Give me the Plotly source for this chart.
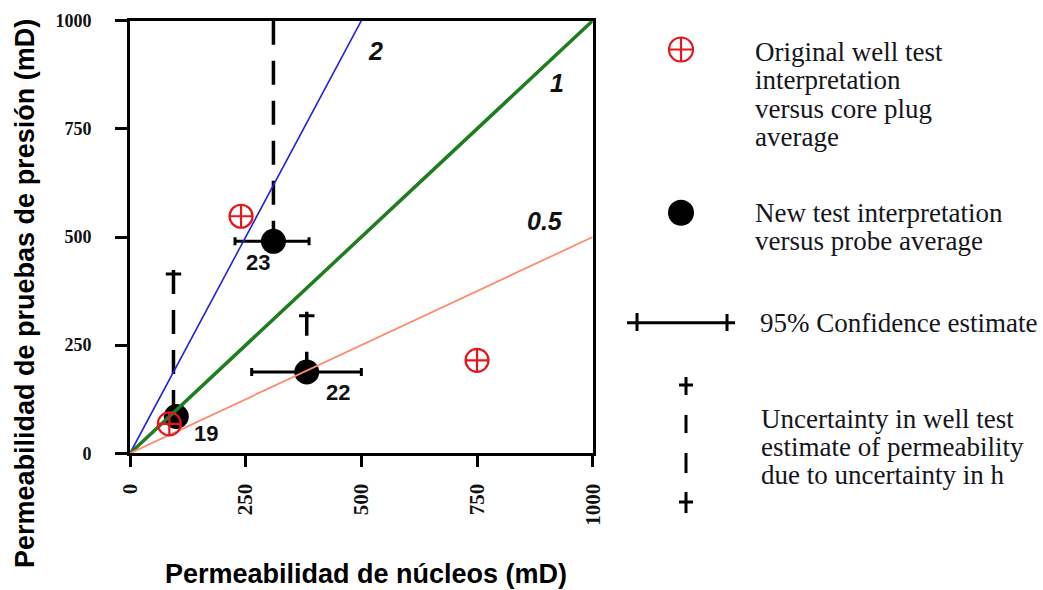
import plotly.graph_objects as go

# ---------------- data ----------------
wells = ["23", "22", "19"]
probe_avg = [310, 382, 100]          # x of new interpretation (black dots)
new_test_k = [490, 188, 85]          # y of new interpretation
conf_minus = [83, 119, None]         # 95% confidence (horizontal)
conf_plus = [77, 118, None]
h_x = [310, 382, 94]                 # uncertainty in h (vertical dashed)
h_top = [1000, 327, 424]
core_plug_avg = [240, 750, 85]       # x of original interpretation (red)
orig_test_k = [548, 215, 68]         # y of original interpretation
ratios = [2, 1, 0.5]
ratio_labels = ["2", "1", "0.5"]
ratio_label_x = [531, 922, 897]
ratio_label_y = [930, 856, 537]
ratio_colors = ["#2323d8", "#1e7d1e", "#ff8b6e"]
ratio_widths = [1.6, 3.5, 1.8]
xticks = [0, 250, 500, 750, 1000]
yticks = [0, 250, 500, 750, 1000]
AX_MAX = 1000

W, H = 1043, 590
M = 10
PW, PH = W - 2 * M, H - 2 * M
SANS = "Liberation Sans, Arial, sans-serif"
SERIF = "Liberation Serif, Times New Roman, serif"


def px_x(p):
    return (p - M) / PW


def px_y(p):
    return 1 - (p - M) / PH


# plot area in pixels
PX_L, PX_R, PX_T, PX_B = 130, 592.7, 20.7, 453.3
xdom = [px_x(PX_L), px_x(PX_R)]
ydom = [px_y(PX_B), px_y(PX_T)]
ypx_per_unit = (PX_B - PX_T) / AX_MAX

fig = go.Figure()

# uncertainty in h (vertical dashed)
for xv, y0, y1 in zip(h_x, new_test_k, h_top):
    fig.add_trace(go.Scatter(x=[xv, xv], y=[y1, y0], mode="lines",
                             line=dict(color="black", width=3.5, dash="24px,16px"),
                             hoverinfo="skip"))
cb_x = [xv for xv, t in zip(h_x, h_top) if t < AX_MAX]
cb_y = [t - 4 / ypx_per_unit for t in h_top if t < AX_MAX]
fig.add_trace(go.Scatter(x=cb_x, y=cb_y, mode="markers",
                         marker=dict(symbol="line-ew", size=11,
                                     line=dict(color="black", width=3)),
                         hoverinfo="skip"))

# new interpretation with confidence bars
fig.add_trace(go.Scatter(
    x=probe_avg, y=new_test_k, mode="markers",
    marker=dict(color="black", size=25),
    error_x=dict(type="data", array=conf_plus, arrayminus=conf_minus,
                 symmetric=False, color="black", thickness=3, width=4),
))

# ratio lines
for r, c, w in zip(ratios, ratio_colors, ratio_widths):
    xe = min(AX_MAX, AX_MAX / r)
    fig.add_trace(go.Scatter(x=[0, xe], y=[0, r * xe], mode="lines",
                             line=dict(color=c, width=w), hoverinfo="skip"))

# original interpretation
fig.add_trace(go.Scatter(
    x=core_plug_avg, y=orig_test_k, mode="markers",
    marker=dict(symbol="circle-cross-open", size=23, color="#e5161c",
                line=dict(width=2.2, color="#e5161c")),
))

# ratio labels
for t, xv, yv in zip(ratio_labels, ratio_label_x, ratio_label_y):
    fig.add_annotation(x=xv, y=yv, text=f"<b><i>{t}</i></b>", showarrow=False,
                       font=dict(family=SANS, size=25, color="#111"),
                       xanchor="center", yanchor="middle")

# well labels
well_shift = [(-15, -21), (31, -21), (30, -17)]
for t, xv, yv, (dx, dy) in zip(wells, probe_avg, new_test_k, well_shift):
    fig.add_annotation(x=xv, y=yv, text=f"<b>{t}</b>", showarrow=False,
                       xshift=dx, yshift=dy,
                       font=dict(family=SANS, size=22, color="#111"),
                       xanchor="center", yanchor="middle")

# axis titles
fig.add_annotation(xref="paper", yref="paper", x=px_x(365.5), y=px_y(574),
                   text="<b>Permeabilidad de núcleos (mD)</b>", showarrow=False,
                   font=dict(family=SANS, size=27, color="black"),
                   xanchor="center", yanchor="middle")
fig.add_annotation(xref="paper", yref="paper", x=px_x(25), y=px_y(294),
                   text="<b>Permeabilidad de pruebas de presión (mD)</b>",
                   showarrow=False, textangle=-90,
                   font=dict(family=SANS, size=27, color="black"),
                   xanchor="center", yanchor="middle")

# ---------------- legend (pixel overlay axes) ----------------
X2D = 0.58
fig.add_trace(go.Scatter(x=[681], y=[49.5], xaxis="x2", yaxis="y2", mode="markers",
                         marker=dict(symbol="circle-cross-open", size=24, color="#e5161c",
                                     line=dict(width=2.2, color="#e5161c"))))
fig.add_trace(go.Scatter(x=[681], y=[212.7], xaxis="x2", yaxis="y2", mode="markers",
                         marker=dict(color="black", size=26)))

leg_shapes = [
    (627, 322.7, 735, 322.7), (637, 313, 637, 331), (727, 314, 727, 331),
    (686, 377, 686, 395), (679, 385, 693, 385),
    (686, 415, 686, 433), (686, 453, 686, 473),
    (686, 492, 686, 513), (679, 502, 693, 502),
]
for x0, y0, x1, y1 in leg_shapes:
    fig.add_shape(type="line", xref="x2", yref="y2", x0=x0, y0=y0, x1=x1, y1=y1,
                  line=dict(color="black", width=3))

leg_text = [
    (753, 52, "Original well test"), (753, 80, "interpretation"),
    (753, 108.5, "versus core plug"), (753, 137, "average"),
    (753, 213, "New test interpretation"), (753, 241, "versus probe average"),
    (758, 323, "95% Confidence estimate"),
    (759, 419, "Uncertainty in well test"), (759, 447, "estimate of permeability"),
    (759, 475, "due to uncertainty in h"),
]
for xv, yv, t in leg_text:
    fig.add_annotation(xref="x2", yref="y2", x=xv, y=yv, text=t, showarrow=False,
                       font=dict(family=SERIF, size=27, color="#151520"),
                       xanchor="left", yanchor="middle")

axis_common = dict(showgrid=False, zeroline=False, showline=True, linewidth=3,
                   linecolor="black", mirror=True, ticks="outside", tickwidth=3,
                   tickcolor="black", range=[0, AX_MAX], automargin=False)
fig.update_layout(
    width=W, height=H, margin=dict(l=M, r=M, t=M, b=M, autoexpand=False),
    paper_bgcolor="white", plot_bgcolor="white", showlegend=False,
    xaxis=dict(domain=xdom, tickvals=xticks, ticktext=[str(v) for v in xticks],
               tickangle=-90, ticklen=11, ticklabelstandoff=8,
               tickfont=dict(family=SERIF, size=21, color="#111", weight=700),
               **axis_common),
    yaxis=dict(domain=ydom, tickvals=yticks, ticktext=[str(v) for v in yticks],
               ticklen=12, ticklabelstandoff=20,
               tickfont=dict(family=SERIF, size=18, color="#111", weight=700),
               **axis_common),
    xaxis2=dict(domain=[X2D, 1], range=[M + X2D * PW, W - M], visible=False,
                anchor="y2"),
    yaxis2=dict(domain=[0, 1], range=[H - M, M], visible=False, anchor="x2"),
)

fig.write_html("out.html")
